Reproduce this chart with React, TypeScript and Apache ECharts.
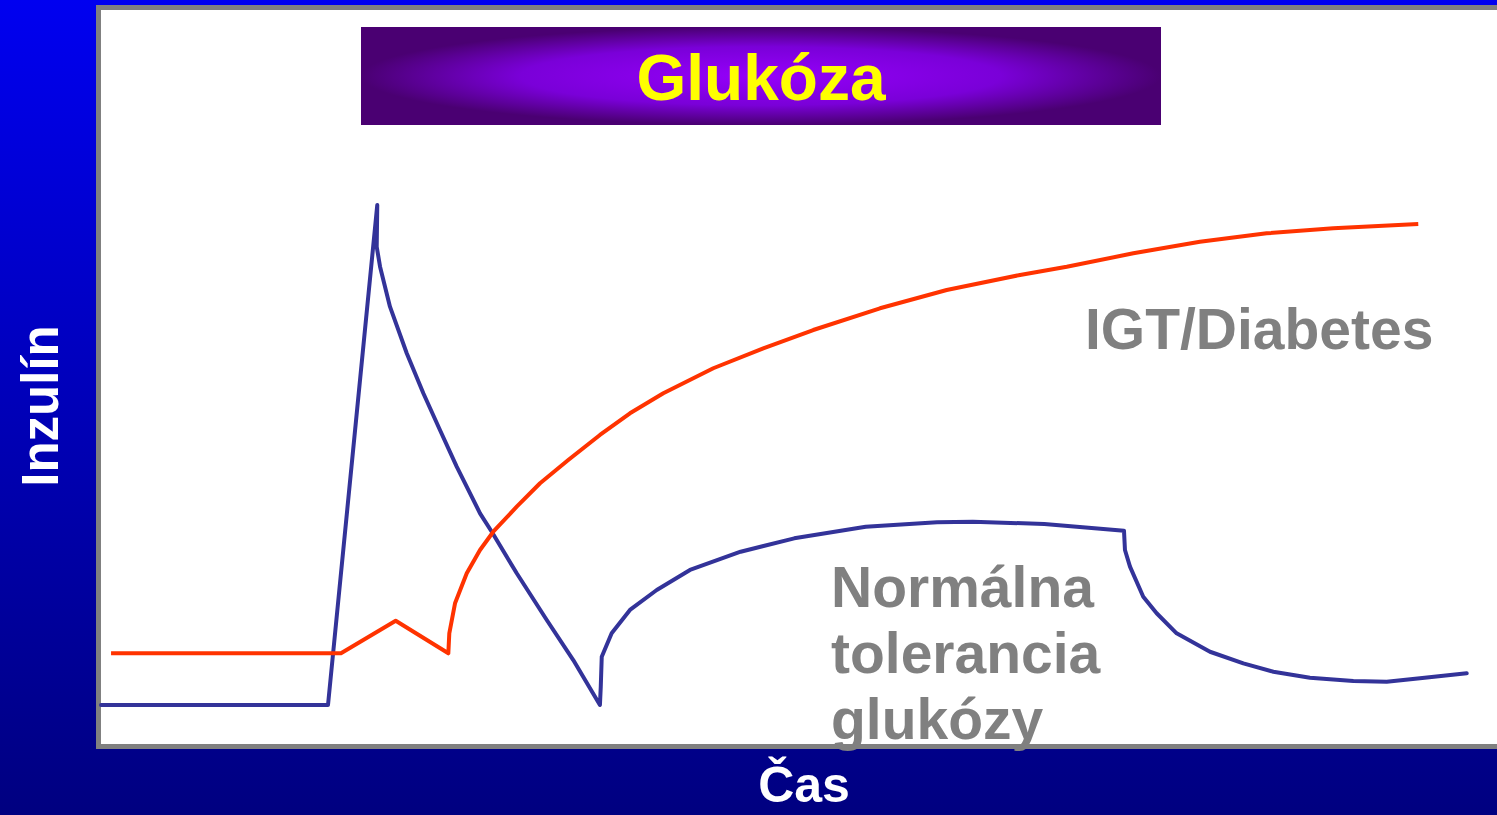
import React, { useEffect, useRef } from "react";
import * as echarts from "echarts";

// Time axis (arbitrary units 0–100) and insulin level (arbitrary units 0–100)
const normalTime = [
  0, 16.26, 19.79, 19.75, 19.99, 20.7, 21.9, 23.09, 24.28, 25.48, 27.15, 27.99, 29.78, 31.93, 33.83, 35.74,
  35.8, 35.87, 36.58, 37.89, 39.81, 42.19, 45.82, 49.66, 54.78, 59.89, 62.46, 67.57, 73.28,
  73.35, 73.71, 74.66, 75.62, 77.05, 79.44, 81.83, 83.98, 86.6, 89.71, 92.1, 94.48, 97.83,
];
const normalInsulin = [
  5.3, 5.3, 73.43, 67.75, 65.03, 59.58, 53.23, 47.78, 42.78, 37.78, 31.43, 28.92, 23.26, 16.89, 11.44, 5.31,
  7.81, 11.89, 15.08, 18.26, 20.98, 23.71, 26.2, 28.02, 29.61, 30.2, 30.29, 29.97, 29.06,
  26.43, 24.16, 20.07, 17.81, 15.08, 12.57, 10.99, 9.85, 9.03, 8.58, 8.49, 8.95, 9.63,
];

const igtTime = [
  0.72, 17.19, 21.11, 24.88, 24.95, 25.36, 26.2, 27.15, 28.1, 29.78, 31.45, 33.47, 35.74, 37.89, 40.28,
  43.86, 47.44, 51.02, 55.8, 60.58, 65.83, 69.18, 73.95, 78.72, 83.5, 88.27, 94.36,
];
const igtInsulin = [
  12.36, 12.36, 16.8, 12.36, 15.08, 19.17, 23.26, 26.43, 28.92, 32.33, 35.52, 38.69, 42.1, 45.05, 47.78,
  51.19, 53.91, 56.4, 59.36, 61.85, 63.9, 65.03, 66.85, 68.43, 69.58, 70.26, 70.84,
];

const titleText = "Glukóza";
const yAxisTitle = "Inzulín";
const xAxisTitle = "Čas";
const igtLabel = "IGT/Diabetes";
const normalLabelLines = ["Normálna", "tolerancia", "glukózy"];

const FONT = "'Liberation Sans', Arial, sans-serif";

export default function App() {
  const ref = useRef<HTMLDivElement>(null);

  useEffect(() => {
    if (!ref.current) return;
    const chart = echarts.init(ref.current, undefined, { renderer: "svg" });

    const normalData = normalTime.map((t, i) => [t, normalInsulin[i]]);
    const igtData = igtTime.map((t, i) => [t, igtInsulin[i]]);

    const textStyleGray = {
      fill: "#808080",
      font: `bold 57px ${FONT}`,
    };

    chart.setOption({
      animation: false,
      grid: { left: 101, top: 10, right: 0, bottom: 71, containLabel: false },
      xAxis: {
        type: "value",
        min: 0,
        max: 100,
        show: false,
      },
      yAxis: {
        type: "value",
        min: 0,
        max: 100,
        show: false,
      },
      graphic: [
        {
          type: "rect",
          z: -10,
          silent: true,
          shape: { x: 0, y: 0, width: 1497, height: 815 },
          style: {
            fill: new echarts.graphic.LinearGradient(0, 0, 0, 1, [
              { offset: 0, color: "#0000F0" },
              { offset: 1, color: "#000080" },
            ]),
          },
        },
        {
          type: "rect",
          z: -9,
          silent: true,
          shape: { x: 98.5, y: 7.5, width: 1420, height: 739 },
          style: { fill: "#ffffff", stroke: "#808080", lineWidth: 5 },
        },
        {
          type: "rect",
          z: -8,
          silent: true,
          shape: { x: 361, y: 27, width: 800, height: 98 },
          style: {
            fill: new echarts.graphic.RadialGradient(0.5, 0.5, 0.5, [
              { offset: 0, color: "#9500FA" },
              { offset: 0.6, color: "#7A00D8" },
              { offset: 1, color: "#4A0072" },
            ]),
          },
        },
        {
          type: "text",
          z: 10,
          x: 761,
          y: 78,
          style: {
            text: titleText,
            fill: "#FFFF00",
            font: `bold 64px ${FONT}`,
            align: "center",
            verticalAlign: "middle",
          },
        },
        {
          type: "text",
          z: 10,
          x: 40,
          y: 406,
          rotation: Math.PI / 2,
          style: {
            text: yAxisTitle,
            fill: "#ffffff",
            font: `bold 51px ${FONT}`,
            align: "center",
            verticalAlign: "middle",
          },
        },
        {
          type: "text",
          z: 10,
          x: 804,
          y: 785,
          style: {
            text: xAxisTitle,
            fill: "#ffffff",
            font: `bold 50px ${FONT}`,
            align: "center",
            verticalAlign: "middle",
          },
        },
        {
          type: "text",
          z: 10,
          x: 1085,
          y: 329,
          style: { ...textStyleGray, text: igtLabel, align: "left", verticalAlign: "middle" },
        },
        ...normalLabelLines.map((line, i) => ({
          type: "text",
          z: 10,
          x: 831,
          y: 587 + i * 66,
          style: { ...textStyleGray, text: line, align: "left", verticalAlign: "middle" },
        })),
      ],
      series: [
        {
          name: "Normálna tolerancia glukózy",
          type: "line",
          data: normalData,
          showSymbol: false,
          symbol: "none",
          smooth: false,
          z: 3,
          lineStyle: { color: "#333399", width: 4, cap: "round", join: "round" },
        },
        {
          name: "IGT/Diabetes",
          type: "line",
          data: igtData,
          showSymbol: false,
          symbol: "none",
          smooth: false,
          z: 3,
          lineStyle: { color: "#FF3300", width: 4, cap: "butt", join: "round" },
        },
      ],
    });

    return () => chart.dispose();
  }, []);

  return (
    <div
      ref={ref}
      style={{ position: "fixed", left: 0, top: 0, width: 1497, height: 815 }}
    />
  );
}
